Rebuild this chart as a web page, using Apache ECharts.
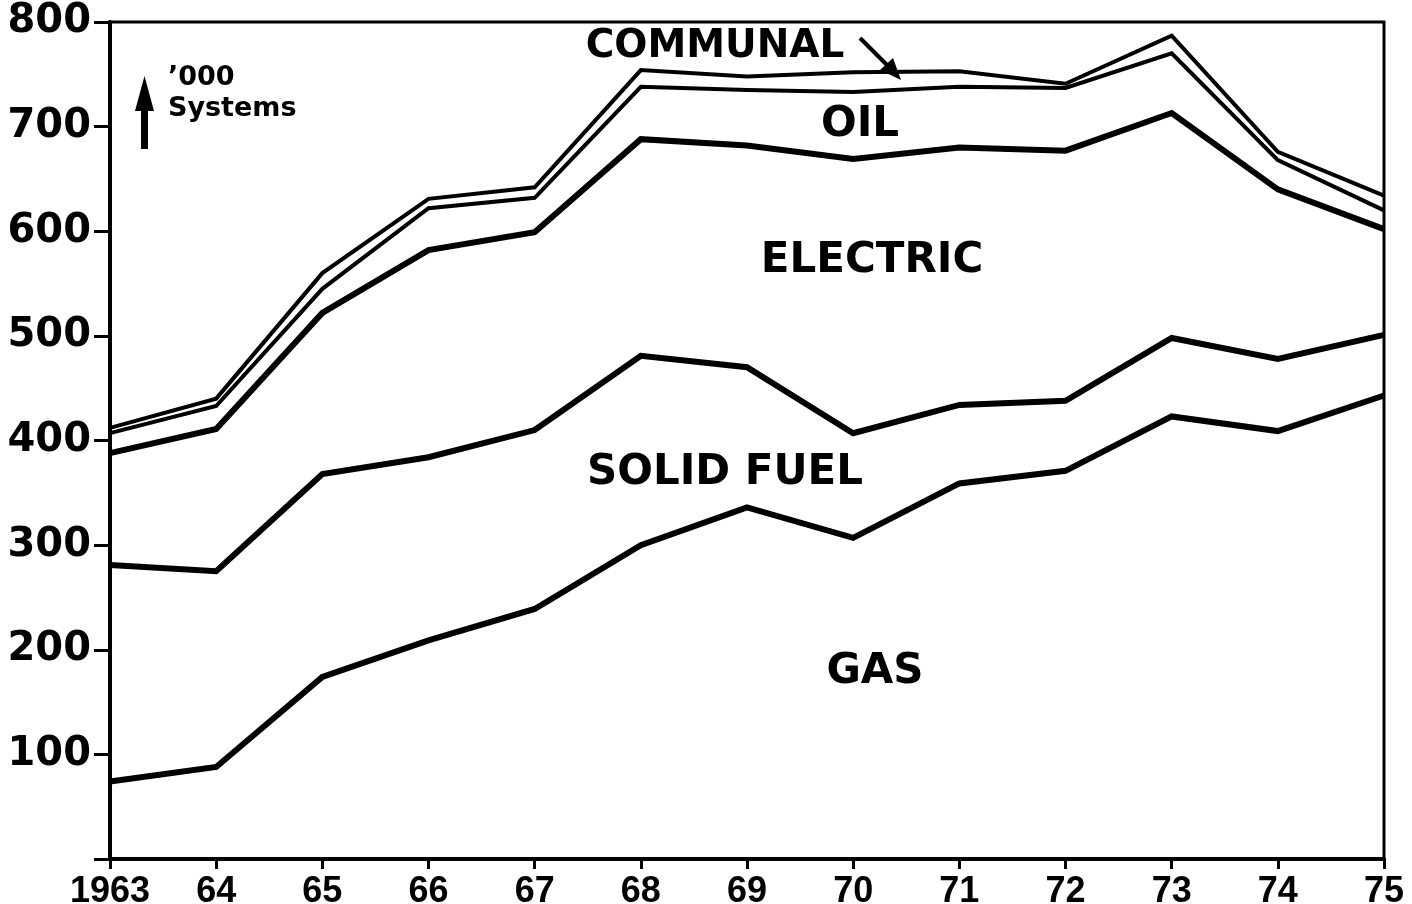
<!DOCTYPE html>
<html>
<head>
<meta charset="utf-8">
<title>Central heating systems</title>
<script src="https://cdn.jsdelivr.net/npm/echarts@6/dist/echarts.min.js"></script>
<style>
  html, body { margin: 0; padding: 0; background: #fff; }
  #chart { width: 1412px; height: 904px; }
</style>
</head>
<body>
<div id="chart"></div>
<script>
// years on the x axis
const years = ['1963', '64', '65', '66', '67', '68', '69', '70', '71', '72', '73', '74', '75'];

// cumulative lines, '000 systems (each line is the top of its band)
const gasLine = [74, 88, 174, 209, 239, 300, 336, 307, 359, 371, 423, 409, 443];
const solidFuelLine = [281, 275, 368, 384, 410, 481, 470, 407, 434, 438, 498, 478, 501];
const electricLine = [388, 411, 522, 582, 599, 688, 682, 669, 680, 677, 713, 640, 602];
const oilLine = [407, 433, 545, 622, 632, 738, 735, 733, 738, 737, 770, 668, 620];
const communalLine = [412, 440, 560, 631, 642, 754, 748, 752, 753, 741, 787, 676, 634];

const font = 'DejaVu Sans';

function lineSeries(name, data, width) {
  return {
    name: name,
    type: 'line',
    data: data,
    symbol: 'none',
    lineStyle: { color: '#000', width: width, join: 'miter' },
    z: 3
  };
}

function bandLabel(text, x, y, size) {
  return {
    type: 'text',
    x: x,
    y: y,
    style: {
      text: text,
      fill: '#000',
      font: 'bold ' + size + 'px "' + font + '"',
      align: 'center',
      verticalAlign: 'middle'
    },
    z: 10
  };
}

const option = {
  backgroundColor: '#fff',
  animation: false,
  grid: {
    left: 110,
    right: 28,
    top: 22,
    bottom: 45,
    containLabel: false,
    outerBoundsMode: 'none',
    show: true,
    borderColor: '#000',
    borderWidth: 3,
    backgroundColor: 'transparent'
  },
  xAxis: {
    type: 'category',
    data: years,
    boundaryGap: false,
    axisLine: { lineStyle: { color: '#000', width: 4 } },
    axisTick: { show: true, length: 10, lineStyle: { color: '#000', width: 3 } },
    axisLabel: {
      color: '#000',
      fontFamily: 'Liberation Sans',
      fontWeight: 'bold',
      fontSize: 36,
      margin: 15,
      hideOverlap: false
    },
    splitLine: { show: false }
  },
  yAxis: {
    type: 'value',
    min: 0,
    max: 800,
    interval: 100,
    axisLine: { show: true, lineStyle: { color: '#000', width: 4 } },
    axisTick: { show: true, length: 16, lineStyle: { color: '#000', width: 3 } },
    axisLabel: {
      color: '#000',
      fontFamily: font,
      fontWeight: 'bold',
      fontSize: 40,
      margin: 19,
      formatter: function (v) { return v === 0 ? '' : String(v); }
    },
    splitLine: { show: false }
  },
  series: [
    lineSeries('Gas', gasLine, 6),
    lineSeries('Solid fuel', solidFuelLine, 6),
    lineSeries('Electric', electricLine, 6),
    lineSeries('Oil', oilLine, 4),
    lineSeries('Communal', communalLine, 4)
  ],
  graphic: [
    bandLabel('COMMUNAL', 715, 47, 39),
    bandLabel('OIL', 860, 125, 42),
    bandLabel('ELECTRIC', 872, 261, 42),
    bandLabel('SOLID FUEL', 725, 473, 42),
    bandLabel('GAS', 875, 672, 42),
    // arrow from COMMUNAL label to its band
    {
      type: 'line',
      shape: { x1: 860, y1: 38, x2: 893, y2: 71 },
      style: { stroke: '#000', lineWidth: 4 },
      z: 10
    },
    {
      type: 'polygon',
      shape: { points: [[901, 80], [880, 70], [893, 58]] },
      style: { fill: '#000' },
      z: 10
    },
    // unit note with up arrow
    {
      type: 'rect',
      shape: { x: 141, y: 104, width: 7, height: 45 },
      style: { fill: '#000' },
      z: 10
    },
    {
      type: 'polygon',
      shape: { points: [[144.5, 76], [135, 111], [154, 111]] },
      style: { fill: '#000' },
      z: 10
    },
    {
      type: 'text',
      x: 168,
      y: 62,
      style: {
        text: '\u2019000\nSystems',
        fill: '#000',
        font: 'bold 27px "' + font + '"',
        lineHeight: 31,
        align: 'left',
        verticalAlign: 'top'
      },
      z: 10
    }
  ]
};

const chart = echarts.init(document.getElementById('chart'));
chart.setOption(option);
</script>
</body>
</html>
